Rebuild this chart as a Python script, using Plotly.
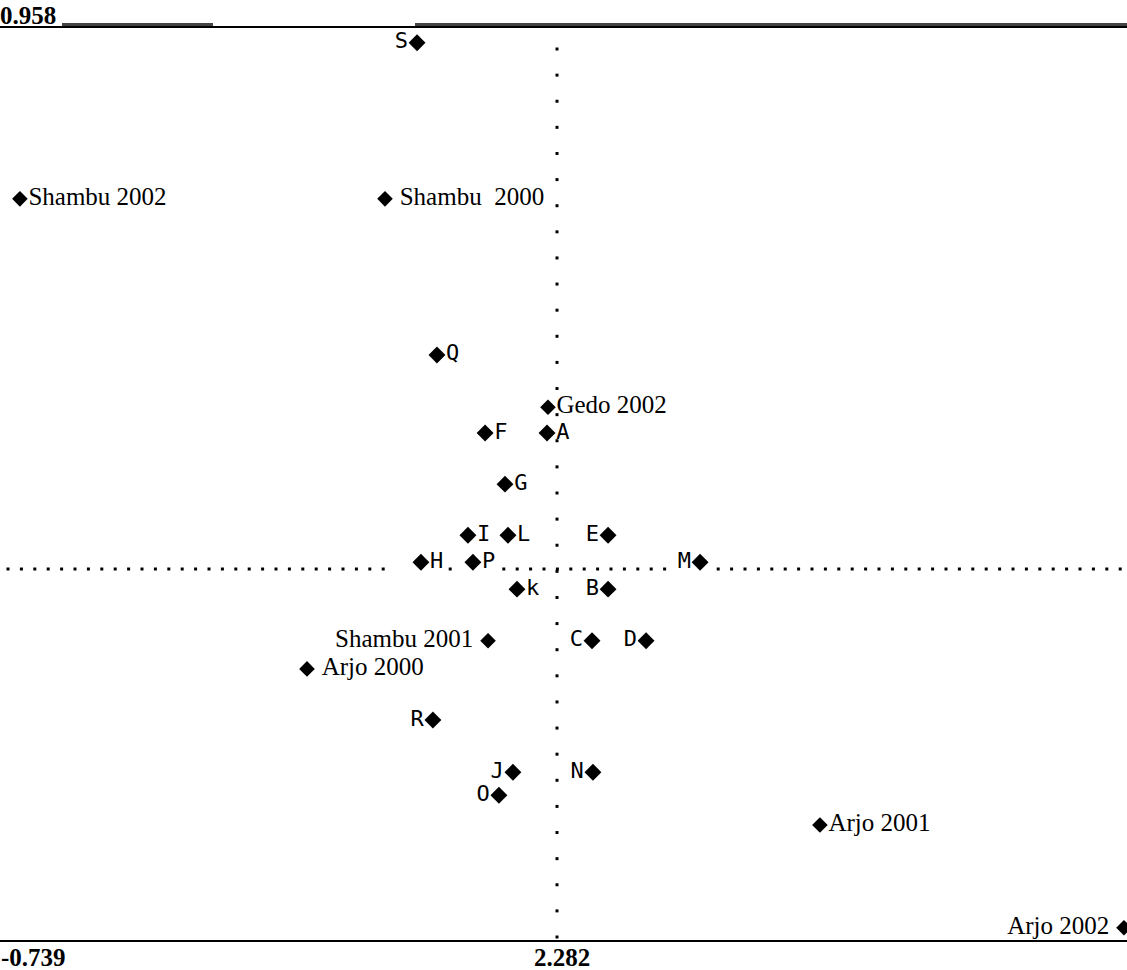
import numpy as np
import plotly.graph_objects as go

# ---------------- data (biplot scores) ----------------
genotypes = ["S", "Q", "F", "A", "G", "I", "L", "E", "H", "P", "M",
             "k", "B", "C", "D", "R", "J", "N", "O"]
geno_x = [1.523, 1.631, 1.892, 2.228, 2.000, 1.799, 2.016, 2.559, 1.544, 1.826, 3.058,
          2.065, 2.559, 2.472, 2.765, 1.609, 2.043, 2.477, 1.967]
geno_y = [0.930, 0.374, 0.235, 0.235, 0.144, 0.053, 0.053, 0.053, 0.005, 0.005, 0.005,
          -0.043, -0.043, -0.135, -0.135, -0.276, -0.369, -0.369, -0.410]
geno_side = ["left", "right", "right", "right", "right", "right", "right", "left", "right", "right", "left",
             "right", "left", "left", "left", "left", "left", "left", "left"]

environments = ["Shambu 2000", "Shambu 2001", "Shambu 2002",
                "Arjo 2000", "Arjo 2001", "Arjo 2002", "Gedo 2002"]
env_x = [1.349, 1.908, -0.631, 0.926, 3.708, 5.357, 2.233]
env_y = [0.652, -0.135, 0.652, -0.185, -0.463, -0.646, 0.281]
env_side = ["right", "left", "right", "right", "right", "left", "right"]

axis_labels = ["0.958", "-0.739", "2.282"]
X_LEFT = -0.739   # left edge value
X_MID = 2.282     # value at vertical reference line
Y_TOP = 0.958     # value at top line

# ---------------- geometry helpers (layout only) ----------------
W, H = 1127, 970
PX_MID = 557          # pixel of the vertical dotted line
PY_TOP = 27           # pixel of the top rule
PY_ZERO = 565         # pixel of the horizontal dotted line
kx = (X_MID - X_LEFT) / PX_MID
ky = Y_TOP / (PY_ZERO - PY_TOP)

def dx(px):
    return X_LEFT + px * kx

def dy(py):
    return (PY_ZERO - py) * ky

x_range = [dx(0), dx(W)]
y_range = [dy(H), dy(0)]

fig = go.Figure()

# dotted reference lines drawn as "." characters
vy = np.linspace(49, 937, 35)
fig.add_trace(go.Scatter(x=[dx(PX_MID)] * len(vy), y=[dy(v) for v in vy], mode="markers",
                         marker=dict(symbol="square", size=3, color="black", line=dict(width=0)),
                         hoverinfo="skip", showlegend=False))
hx = [v for v in np.arange(8, 1125, 13.4)
      if not (385 < v < 443 or 455 < v < 503 or 668 < v < 712)]
fig.add_trace(go.Scatter(x=[dx(v) for v in hx], y=[dy(PY_ZERO + 4)] * len(hx), mode="markers",
                         marker=dict(symbol="square", size=3, color="black", line=dict(width=0)),
                         hoverinfo="skip", showlegend=False))

NB = "\u00a0"
def pos(side):
    return "middle right" if side == "right" else "middle left"

# genotypes
fig.add_trace(go.Scatter(
    x=geno_x, y=geno_y, mode="markers+text",
    text=genotypes, textposition=[pos(s) for s in geno_side],
    textfont=dict(family="DejaVu Sans Mono", size=22, color="black"),
    marker=dict(symbol="diamond", size=13, color="black", line=dict(width=0)),
    cliponaxis=False, showlegend=False))

# environments
env_text = []
for name, side in zip(environments, env_side):
    t = name.replace(" 2000", NB + " 2000") if name == "Shambu 2000" else name
    if name in ("Shambu 2000", "Arjo 2000"):
        t = NB + t
    if side == "left":
        t = t + NB
    env_text.append(t)
fig.add_trace(go.Scatter(
    x=env_x, y=env_y, mode="markers+text",
    text=env_text, textposition=[pos(s) for s in env_side],
    textfont=dict(family="Liberation Serif", size=25, color="black"),
    marker=dict(symbol="diamond", size=12, color="black", line=dict(width=0)),
    cliponaxis=False, showlegend=False))

# rules
shapes = [
    dict(type="line", x0=dx(0), x1=dx(W), y0=dy(PY_TOP), y1=dy(PY_TOP),
         line=dict(color="black", width=2)),
    dict(type="line", x0=dx(62), x1=dx(213), y0=dy(PY_TOP - 2.5), y1=dy(PY_TOP - 2.5),
         line=dict(color="#444444", width=3)),
    dict(type="line", x0=dx(415), x1=dx(W), y0=dy(PY_TOP - 2.5), y1=dy(PY_TOP - 2.5),
         line=dict(color="#444444", width=3)),
    dict(type="line", x0=dx(0), x1=dx(W), y0=dy(941), y1=dy(941),
         line=dict(color="black", width=2)),
]

lab_font = dict(family="Liberation Serif", size=25, color="black")
annotations = [
    dict(x=dx(0), y=dy(15), text="<b>" + axis_labels[0] + "</b>", showarrow=False,
         xanchor="left", yanchor="middle", font=lab_font, xshift=-2),
    dict(x=dx(1), y=dy(957), text="<b>" + axis_labels[1] + "</b>", showarrow=False,
         xanchor="left", yanchor="middle", font=lab_font, xshift=-2),
    dict(x=dx(562), y=dy(957), text="<b>" + axis_labels[2] + "</b>", showarrow=False,
         xanchor="center", yanchor="middle", font=lab_font),
]

fig.update_layout(
    width=W, height=H, margin=dict(l=0, r=0, t=0, b=0),
    paper_bgcolor="white", plot_bgcolor="white",
    xaxis=dict(range=x_range, visible=False, fixedrange=True),
    yaxis=dict(range=y_range, visible=False, fixedrange=True),
    shapes=shapes, annotations=annotations, showlegend=False,
)

fig.write_html("out.html", config={"displayModeBar": False},
               post_script="document.body.style.margin='0';document.body.style.overflow='hidden';")
